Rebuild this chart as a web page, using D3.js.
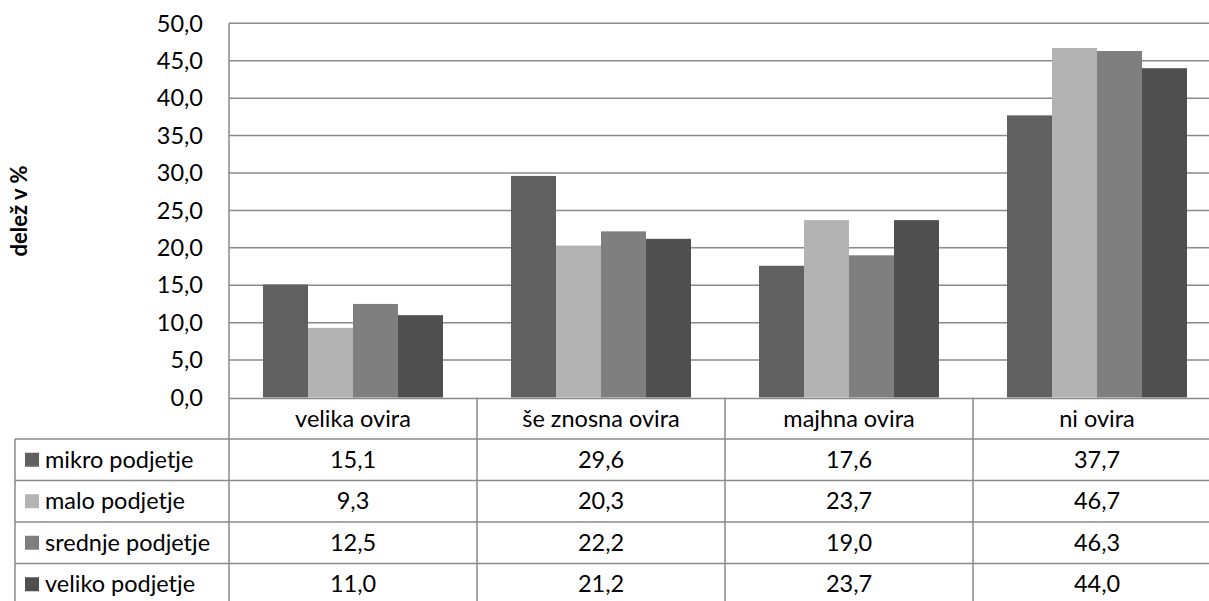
<!DOCTYPE html>
<html><head><meta charset="utf-8">
<script src="https://cdn.jsdelivr.net/npm/d3@7"></script>
<style>body{margin:0;background:#fff}svg{display:block}text{font-family:Lato,"Liberation Sans",sans-serif;fill:#000}</style>
</head><body><svg id="c" width="1209" height="601"></svg>
<script>
const categories = ["velika ovira", "še znosna ovira", "majhna ovira", "ni ovira"];
const seriesNames = ["mikro podjetje", "malo podjetje", "srednje podjetje", "veliko podjetje"];
const mikro = [15.1, 29.6, 17.6, 37.7];
const malo = [9.3, 20.3, 23.7, 46.7];
const srednje = [12.5, 22.2, 19.0, 46.3];
const veliko = [11.0, 21.2, 23.7, 44.0];
const colors = ["#606060", "#b3b3b3", "#7f7f7f", "#4f4f4f"];
const yTicks = [0, 5, 10, 15, 20, 25, 30, 35, 40, 45, 50];
const yTitle = "delež v %";

const series = [mikro, malo, srednje, veliko];
const svg = d3.select("#c");
const plotL = 229, plotR = 1221, plotT = 23.3, plotB = 397.5;
const tableL = 15, rowH = 41.5, catRowB = 439;
const gridCol = "#8a8a8a";
const fs = "23.5px";
const fmt = v => v.toFixed(1).replace(".", ",");

const x0 = d3.scaleBand().domain(categories).range([plotL, plotR]).padding(0);
const x1 = d3.scaleBand().domain(d3.range(series.length)).range([34, x0.bandwidth() - 34]).padding(0);
const y = d3.scaleLinear().domain([0, 50]).range([plotB, plotT]);

// gridlines
svg.append("g").selectAll("line").data(yTicks.filter(t => t > 0)).join("line")
  .attr("x1", plotL).attr("x2", plotR).attr("y1", d => y(d)).attr("y2", d => y(d))
  .attr("stroke", gridCol).attr("stroke-width", 1.5);

// y tick labels
svg.append("g").selectAll("text").data(yTicks).join("text")
  .attr("x", 203).attr("y", d => y(d)).attr("dy", "0.35em").attr("text-anchor", "end")
  .style("font-size", fs).text(d => fmt(d));

// bars
const g = svg.append("g");
categories.forEach((c, ci) => {
  series.forEach((s, si) => {
    g.append("rect")
      .attr("x", x0(c) + x1(si)).attr("width", x1.bandwidth())
      .attr("y", y(s[ci])).attr("height", y(0) - y(s[ci]))
      .attr("fill", colors[si]);
  });
});

// y title
svg.append("text").attr("transform", `translate(27,211) rotate(-90)`)
  .attr("text-anchor", "middle").style("font-size", "22px").style("font-weight", "bold").text(yTitle);

// table lines
const tableB = catRowB + rowH * seriesNames.length;
const lines = svg.append("g").attr("stroke", gridCol).attr("stroke-width", 1.5);
lines.append("line").attr("x1", plotL).attr("x2", plotL).attr("y1", plotT).attr("y2", tableB + 5);
lines.append("line").attr("x1", plotL).attr("x2", plotR).attr("y1", y(0) + 1).attr("y2", y(0) + 1);
categories.forEach(c => {
  lines.append("line").attr("x1", x0(c) + x0.bandwidth()).attr("x2", x0(c) + x0.bandwidth())
    .attr("y1", y(0)).attr("y2", tableB + 5);
});
lines.append("line").attr("x1", tableL).attr("x2", tableL).attr("y1", catRowB).attr("y2", tableB + 5);
d3.range(seriesNames.length).forEach(i => {
  lines.append("line").attr("x1", tableL).attr("x2", plotR)
    .attr("y1", catRowB + i * rowH).attr("y2", catRowB + i * rowH);
});

// category labels
svg.append("g").selectAll("text").data(categories).join("text")
  .attr("x", d => x0(d) + x0.bandwidth() / 2).attr("y", (y(0) + catRowB) / 2 + 1).attr("dy", "0.35em")
  .attr("text-anchor", "middle").style("font-size", fs).text(d => d);

// rows
seriesNames.forEach((name, si) => {
  const cy = catRowB + si * rowH + rowH / 2;
  svg.append("rect").attr("x", 25).attr("y", cy - 7).attr("width", 14).attr("height", 14).attr("fill", colors[si]);
  svg.append("text").attr("x", 45).attr("y", cy).attr("dy", "0.35em").style("font-size", fs).text(name);
  categories.forEach((c, ci) => {
    svg.append("text").attr("x", x0(c) + x0.bandwidth() / 2).attr("y", cy).attr("dy", "0.35em")
      .attr("text-anchor", "middle").style("font-size", fs).text(fmt(series[si][ci]));
  });
});
</script></body></html>
